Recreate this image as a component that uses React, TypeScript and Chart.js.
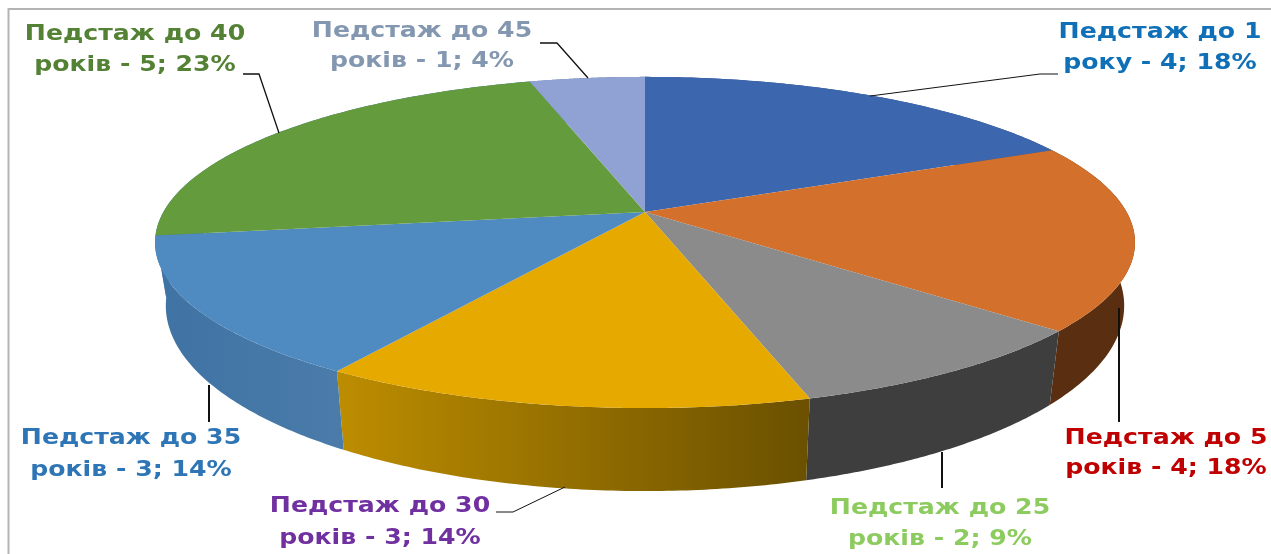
import React, { useEffect, useRef } from "react";
import { Chart, registerables } from "chart.js";

Chart.register(...registerables);

const categories = ["Педстаж до 1 року", "Педстаж до 5 років", "Педстаж до 25 років", "Педстаж до 30 років", "Педстаж до 35 років", "Педстаж до 40 років", "Педстаж до 45 років"];
const values = [4, 4, 2, 3, 3, 5, 1];
const percents = [18, 18, 9, 14, 14, 23, 4];
const firstLines = ["Педстаж до 1", "Педстаж до 5", "Педстаж до 25", "Педстаж до 30", "Педстаж до 35", "Педстаж до 40", "Педстаж до 45"];
const unitWords = ["року", "років", "років", "років", "років", "років", "років"];
const topColors = ["#3c66ae", "#d3712c", "#8b8b8b", "#e5a900", "#4f8ac0", "#649b3d", "#90a1d3"];
const wallColorsFrom = ["#2c4c85", "#5a2e10", "#3e3e3e", "#bd8d00", "#3f73a4", "#3f73a4", "#6e7da6"];
const wallColorsTo = ["#2c4c85", "#5a2e10", "#3e3e3e", "#6a5000", "#4a7ba9", "#3f73a4", "#6e7da6"];
const labelColors = ["#0f70b7", "#c00000", "#8ccb5e", "#7030a0", "#2e75b6", "#548235", "#8497b0"];

// layout of the projected pie (perspective view of the unit circle)
const TOP = { cx: 645, cy: 212, a: 481.6, b: 160, k: 0.184 };
const BOTTOM = { cx: 645, cy: 271.7, a: 471, b: 179, k: 0.184 };
const LABEL_POS = [[1160, 32, 63], [1166, 438, 468], [940, 508, 539], [380, 506, 538], [131, 438, 470], [135, 34, 65], [422, 31, 61]];
const LEADERS = [
  [[1058, 74], [1040, 74], [870, 96]],
  [[1119, 308], [1119, 422]],
  [[942, 452], [942, 488]],
  [[496, 512], [513, 512], [565, 487]],
  [[209, 385], [209, 422]],
  [[243, 74], [259, 74], [279, 133]],
  [[540, 43], [557, 43], [588, 78]],
];
const LEADER_WIDTH = [1, 2, 2, 1, 2, 1.3, 1.3];
const TEXT_STRETCH = 1.145;

type P = typeof TOP;
const project = (p: P, ang: number): [number, number] => {
  const x = Math.cos(ang), y = Math.sin(ang), w = 1 - p.k * y;
  return [p.cx + (p.a * x) / w, p.cy + (p.b * y) / w];
};

const pie3d = {
  id: "pie3d",
  beforeDatasetDraw(chart: any) {
    const ctx = chart.ctx as CanvasRenderingContext2D;
    const arcs = chart.getDatasetMeta(0).data as any[];
    ctx.save();
    // outer walls
    arcs.forEach((arc, i) => {
      const s = arc.startAngle, e = arc.endAngle, n = 80;
      const topEdge: [number, number][] = [], botEdge: [number, number][] = [];
      for (let j = 0; j <= n; j++) {
        const t = s + ((e - s) * j) / n;
        topEdge.push(project(TOP, t));
        botEdge.push(project(BOTTOM, t));
      }
      const xs = topEdge.map((q) => q[0]);
      const g = ctx.createLinearGradient(Math.min(...xs), 0, Math.max(...xs), 0);
      g.addColorStop(0, wallColorsFrom[i]);
      g.addColorStop(1, wallColorsTo[i]);
      ctx.fillStyle = g;
      ctx.beginPath();
      topEdge.forEach((q, j) => (j ? ctx.lineTo(q[0], q[1]) : ctx.moveTo(q[0], q[1])));
      botEdge.reverse().forEach((q) => ctx.lineTo(q[0], q[1]));
      ctx.closePath();
      ctx.fill();
    });
    // top faces
    arcs.forEach((arc, i) => {
      const s = arc.startAngle, e = arc.endAngle, n = 120;
      ctx.fillStyle = topColors[i];
      ctx.beginPath();
      ctx.moveTo(TOP.cx, TOP.cy);
      for (let j = 0; j <= n; j++) {
        const q = project(TOP, s + ((e - s) * j) / n);
        ctx.lineTo(q[0], q[1]);
      }
      ctx.closePath();
      ctx.fill();
    });
    ctx.restore();
    return false;
  },
  afterDraw(chart: any) {
    const ctx = chart.ctx as CanvasRenderingContext2D;
    ctx.save();
    // chart frame
    ctx.strokeStyle = "#b4b4b4";
    ctx.lineWidth = 2;
    ctx.beginPath();
    ctx.moveTo(8.5, 554);
    ctx.lineTo(8.5, 9);
    ctx.lineTo(1271, 9);
    ctx.stroke();
    // leader lines
    ctx.strokeStyle = "#111111";
    LEADERS.forEach((pts, i) => {
      ctx.lineWidth = LEADER_WIDTH[i];
      ctx.beginPath();
      pts.forEach((q, j) => (j ? ctx.lineTo(q[0], q[1]) : ctx.moveTo(q[0], q[1])));
      ctx.stroke();
    });
    // data labels, drawn a little wider than the font's own proportions
    ctx.font = 'bold 22px "DejaVu Sans"';
    ctx.textAlign = "center";
    ctx.textBaseline = "middle";
    categories.forEach((_, i) => {
      const [x, y1, y2] = LABEL_POS[i];
      ctx.save();
      ctx.translate(x, 0);
      ctx.scale(TEXT_STRETCH, 1);
      ctx.fillStyle = labelColors[i];
      ctx.fillText(firstLines[i], 0, y1);
      ctx.fillText(`${unitWords[i]} - ${values[i]}; ${percents[i]}%`, 0, y2);
      ctx.restore();
    });
    ctx.restore();
  },
};

export default function App() {
  const ref = useRef<HTMLCanvasElement>(null);
  useEffect(() => {
    document.body.style.margin = "0";
    document.body.style.background = "#ffffff";
    const chart = new Chart(ref.current!, {
      type: "pie",
      data: { labels: categories, datasets: [{ data: values, backgroundColor: topColors, borderWidth: 0 }] },
      options: {
        animation: false,
        responsive: false,
        plugins: { legend: { display: false }, tooltip: { enabled: false } },
      },
      plugins: [pie3d],
    } as any);
    return () => chart.destroy();
  }, []);
  return <canvas ref={ref} width={1271} height={554} style={{ display: "block", width: 1271, height: 554 }} />;
}
